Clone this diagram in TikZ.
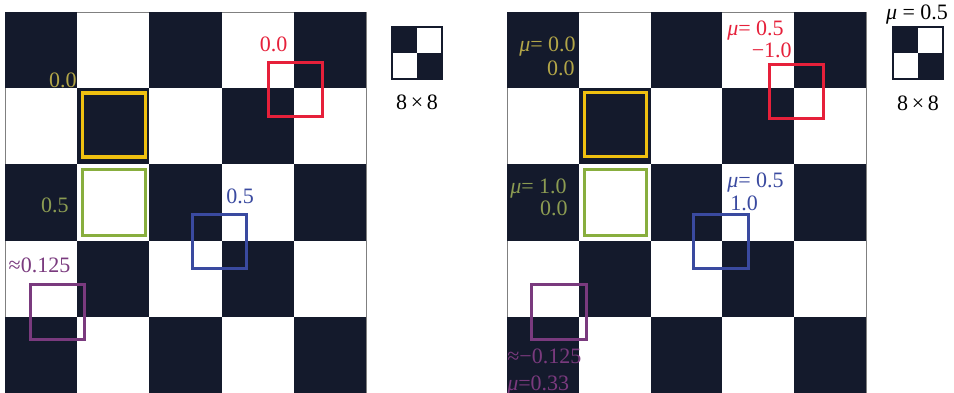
\documentclass[tikz,border=0pt]{standalone}
\usepackage{fontspec}
\setmainfont{Liberation Serif}
\usepackage{tikz}
\usetikzlibrary{positioning}

\definecolor{board}{HTML}{141A2C}
\definecolor{winyellow}{HTML}{F0C010}
\definecolor{txtyellow}{HTML}{B3A648}
\definecolor{wingreen}{HTML}{88AE3E}
\definecolor{txtgreen}{HTML}{8C9C52}
\definecolor{winred}{HTML}{E6203A}
\definecolor{winblue}{HTML}{3A4AA0}
\definecolor{winpurple}{HTML}{7A3A7E}

\newcommand{\mup}{\textit{μ}}

\begin{document}
\begin{tikzpicture}[x=0.75pt, y=-0.75pt]

      \tikzset{box/.style = {draw, line width=2.3pt, inner sep=0pt, minimum width=41pt, minimum height=41pt}}
      \tikzset{bigbox/.style = {box, minimum width=47pt, minimum height=48pt}}
      \tikzset{lbl/.style = {inner sep=0pt, font=\fontsize{16.5}{20}\selectfont}}
      \useasboundingbox (0,0) rectangle (954,393);
      \fill[white] (0,0) rectangle (954,393);

      % boards
      \foreach \bx/\bw in {5/72.2, 507/71.8} {
        \draw[gray, line width=0.4pt] (\bx,12) rectangle ({\bx+5*\bw},393);
        \foreach \i in {0,...,4} {
          \foreach \j in {0,...,4} {
            \pgfmathtruncatemacro{\parity}{mod(\i+\j,2)}
            \ifnum\parity=0
              \fill[board] ({\bx+\i*\bw},{12+\j*76.2}) rectangle ({\bx+(\i+1)*\bw},{min(393,12+(\j+1)*76.2)});
            \fi
          }
        }
      }

      % legends
      \foreach \lx/\lname in {392/legl, 893/legr} {
        \fill[board] (\lx,27) rectangle ++(25,26);
        \fill[board] (\lx+25,53) rectangle ++(25,26);
        \draw[board, line width=1.2pt] (\lx,27) rectangle ++(50,52);
      }
      \node[lbl, anchor=base] (sizel) at (417,109) {8\,×\,8};
      \node[lbl, anchor=base] (sizer) at (918,110) {8\,×\,8};
      \node[lbl, anchor=base] (mur) at (917,19) {\mup\ = 0.5};

      % windows, left board
      \node[bigbox, draw=winyellow] (yl) at (114,125) {};
      \node[bigbox, draw=wingreen, minimum height=50pt] (gl) at (114,202.5) {};
      \node[box, draw=winred] (rl) at (295.5,89.5) {};
      \node[box, draw=winblue] (bl) at (219.5,241.5) {};
      \node[box, draw=winpurple] (pl) at (57.5,312) {};

      % windows, right board
      \node[bigbox, draw=winyellow] (yr) at (615.5,124.5) {};
      \node[bigbox, draw=wingreen, minimum height=50pt] (gr) at (615.5,202.5) {};
      \node[box, draw=winred] (rr) at (796.5,91.5) {};
      \node[box, draw=winblue] (br) at (721,241.5) {};
      \node[box, draw=winpurple] (pr) at (559,312) {};

      % labels, left board
      \node[lbl, anchor=base east, text=txtyellow] (yltxt) at (77,87) {0.0};
      \node[lbl, anchor=base, text=winred] (rltxt) at (273.5,51) {0.0};
      \node[lbl, anchor=base, text=txtgreen] (gltxt) at (55,212) {0.5};
      \node[lbl, anchor=base, text=winblue] (bltxt) at (240,203) {0.5};
      \node[lbl, anchor=base, text=winpurple] (pltxt) at (39.5,272) {≈0.125};

      % labels, right board
      \node[lbl, anchor=base east, text=txtyellow] (yrmu) at (576,51) {\mup= 0.0};
      \node[lbl, anchor=base east, text=txtyellow] (yrtxt) at (575,75) {0.0};
      \node[lbl, anchor=base west, text=winred] (rrmu) at (727,35) {\mup= 0.5};
      \node[lbl, anchor=base east, text=winred] (rrtxt) at (792,57) {−1.0};
      \node[lbl, anchor=base west, text=txtgreen] (grmu) at (510,193) {\mup= 1.0};
      \node[lbl, anchor=base east, text=txtgreen] (grtxt) at (568,215) {0.0};
      \node[lbl, anchor=base west, text=winblue] (brmu) at (727,187) {\mup= 0.5};
      \node[lbl, anchor=base west, text=winblue] (brtxt) at (730,210) {1.0};
      \node[lbl, anchor=base west, text=winpurple] (prtxt) at (507,363) {≈−0.125};
      \node[lbl, anchor=base west, text=winpurple] (prmu) at (507,390) {\mup=0.33};

\end{tikzpicture}
\end{document}
